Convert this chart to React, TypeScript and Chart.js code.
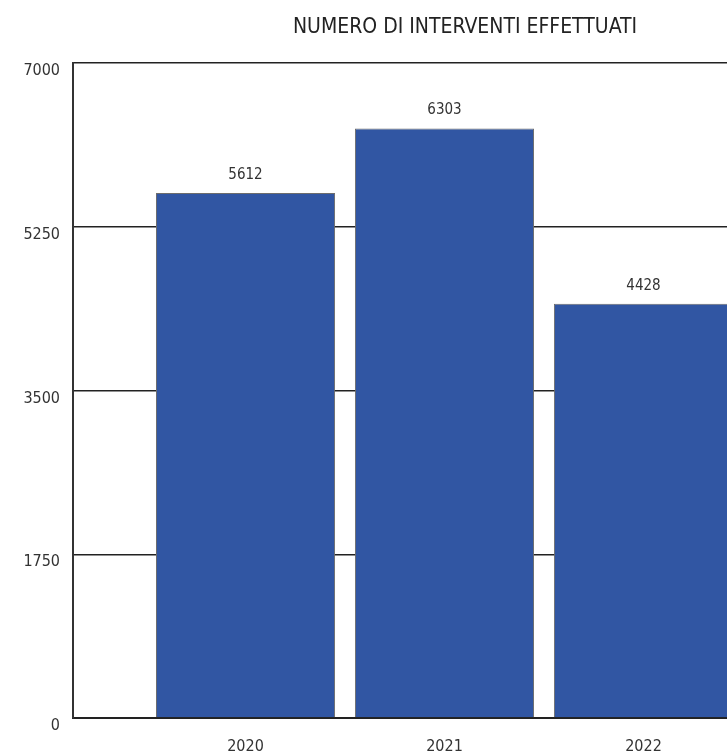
import React, { useEffect, useRef } from "react";
import { Chart, registerables } from "chart.js";

Chart.register(...registerables);

const years = ["2020", "2021", "2022"];
const interventi = [5612, 6303, 4428];
const yTicks = [0, 1750, 3500, 5250, 7000];
const titleText = "NUMERO DI INTERVENTI EFFETTUATI";

const FONT = "'DejaVu Sans Condensed', 'Liberation Sans Narrow', Roboto, sans-serif";

const valueLabels = {
  id: "valueLabels",
  afterDatasetsDraw(chart: any) {
    const ctx = chart.ctx;
    const meta = chart.getDatasetMeta(0);
    ctx.save();
    ctx.font = `15px ${FONT}`;
    ctx.fillStyle = "#333";
    ctx.textAlign = "center";
    ctx.textBaseline = "alphabetic";
    meta.data.forEach((bar: any, i: number) => {
      ctx.fillText(String(interventi[i]), bar.x, bar.y - 14);
    });
    ctx.restore();
  },
};

export default function App() {
  const ref = useRef<HTMLCanvasElement | null>(null);
  useEffect(() => {
    document.body.style.margin = "0";
    document.body.style.overflow = "hidden";
    const chart = new Chart(ref.current!, {
      type: "bar",
      data: {
        datasets: [
          {
            data: interventi.map((v, i) => ({ x: i, y: v })),
            backgroundColor: "#3156a3",
            borderColor: "#6d6d6d",
            borderWidth: 1,
            barPercentage: 0.9,
            categoryPercentage: 1,
          },
        ],
      },
      options: {
        responsive: false,
        animation: false,
        layout: { padding: { left: 0, right: 0, top: 0, bottom: 28 } },
        plugins: {
          legend: { display: false },
          tooltip: { enabled: false },
          title: {
            display: true,
            text: titleText,
            color: "#222",
            font: { size: 21, family: FONT, weight: "normal" },
            padding: { top: 15, bottom: 23 },
          },
        },
        scales: {
          x: {
            type: "linear",
            offset: false,
            min: -0.867,
            max: 3.44,
            afterBuildTicks: (scale: any) => {
              scale.ticks = years.map((_, i) => ({ value: i }));
            },
            afterFit: (scale: any) => {
              scale.height = 34;
            },
            ticks: {
              callback: (v: any) => years[v as number] ?? "",
              color: "#333",
              font: { size: 16, family: FONT },
              padding: 19,
              maxRotation: 0,
              autoSkip: false,
            },
            grid: { display: false, drawTicks: false },
            border: { display: true, color: "#222", width: 2 },
          },
          y: {
            min: 0,
            max: 7000,
            afterBuildTicks: (scale: any) => {
              scale.ticks = yTicks.map((v) => ({ value: v }));
            },
            afterFit: (scale: any) => {
              scale.width = 73;
            },
            ticks: {
              callback: (v: any) => String(v),
              color: "#333",
              font: { size: 16, family: FONT },
              padding: 13,
              labelOffset: 8,
            },
            grid: { color: "#222", lineWidth: 1.5, drawTicks: false },
            border: { display: true, color: "#333", width: 2 },
          },
        },
      },
      plugins: [valueLabels],
    });
    return () => chart.destroy();
  }, []);
  return (
    <div style={{ width: 930, height: 780 }}>
      <canvas ref={ref} width={930} height={780} style={{ display: "block" }} />
    </div>
  );
}
